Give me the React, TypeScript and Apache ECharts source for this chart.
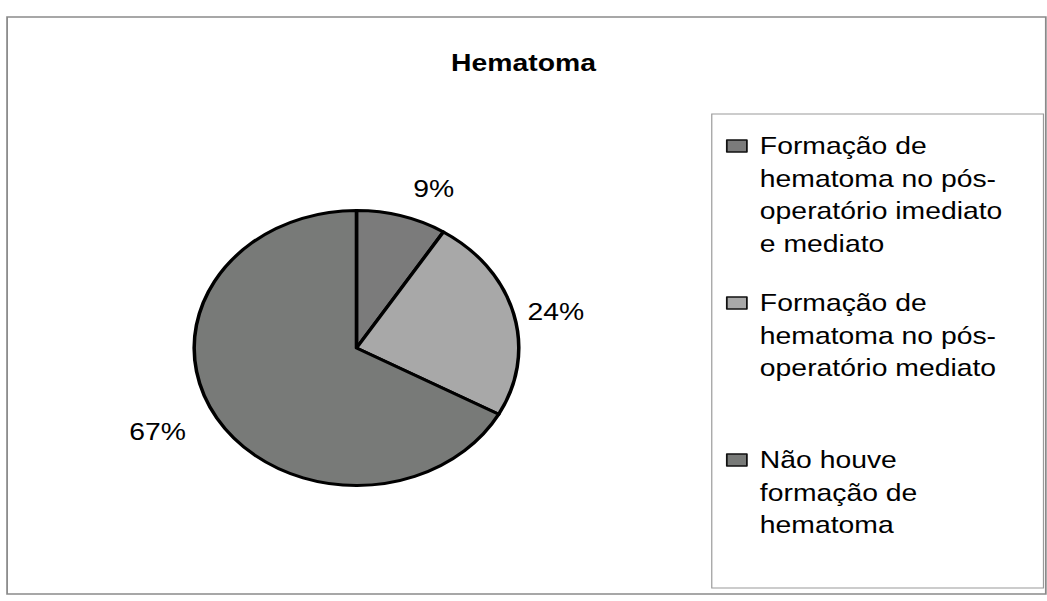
import React, { useEffect, useRef } from "react";
import * as echarts from "echarts";

const categories = [
  "Formação de hematoma no pós-operatório imediato e mediato",
  "Formação de hematoma no pós-operatório mediato",
  "Não houve formação de hematoma",
];
const legendLines = [
  ["Formação de", "hematoma no pós-", "operatório imediato", "e mediato"],
  ["Formação de", "hematoma no pós-", "operatório mediato"],
  ["Não houve", "formação de", "hematoma"],
];
const values = [9, 24, 67];
const colors = ["#7b7b7b", "#a8a8a8", "#787a78"];
const titleText = "Hematoma";

// the scanned reference is stretched horizontally; draw at natural width and stretch
const PAGE_W = 1047;
const PAGE_H = 601;
const STRETCH = 1.18;
const W = Math.round(PAGE_W / STRETCH);

const FONT = "Liberation Sans, Arial, sans-serif";
const LH = 32.5;
const legendFirstLineY = [146, 303, 460];

export default function App() {
  const ref = useRef<HTMLDivElement>(null);
  useEffect(() => {
    if (!ref.current) return;
    const chart = echarts.init(ref.current, null, { renderer: "svg" });
    const legends = categories.map((name, i) => {
      const n = legendLines[i].length;
      return {
        data: [name],
        orient: "vertical",
        left: 615,
        top: legendFirstLineY[i] - ((2 * n - 1) * LH) / 2,
        padding: 0,
        icon: "rect",
        itemWidth: 17,
        itemHeight: 12,
        selectedMode: false,
        itemStyle: { borderColor: "#111", borderWidth: 1.5 },
        // blank lines above keep the symbol level with the first text line
        formatter: (nm: string) => {
          const lines = legendLines[categories.indexOf(nm)];
          return new Array(lines.length - 1).fill(" ").concat(lines).join("\n");
        },
        textStyle: {
          fontFamily: FONT,
          fontSize: 24,
          lineHeight: LH,
          color: "#000",
          padding: [0, 0, 0, 6],
        },
      };
    });
    chart.setOption({
      animation: false,
      backgroundColor: "#fff",
      color: colors,
      title: {
        text: titleText,
        left: "center",
        top: 46,
        textStyle: { fontFamily: FONT, fontSize: 24, fontWeight: "bold", color: "#000" },
      },
      legend: legends,
      graphic: [
        {
          type: "rect",
          shape: { x: 6, y: 17, width: W - 7, height: 577 },
          style: { fill: "none", stroke: "#8a8a8a", lineWidth: 1.5 },
          silent: true,
        },
        {
          type: "rect",
          shape: { x: 603, y: 114, width: 281, height: 474 },
          style: { fill: "none", stroke: "#9a9a9a", lineWidth: 1 },
          silent: true,
        },
      ],
      series: [
        {
          type: "pie",
          center: [302, 348],
          radius: 137.5,
          startAngle: 90,
          clockwise: true,
          avoidLabelOverlap: false,
          silent: true,
          itemStyle: { borderColor: "#000", borderWidth: 3 },
          label: {
            show: true,
            position: "outside",
            formatter: (p: any) => p.value + "%",
            fontFamily: FONT,
            fontSize: 24,
            color: "#000",
            distanceToLabelLine: 2,
          },
          labelLine: { show: false, length: 28, length2: 0 },
          data: categories.map((name, i) => ({
            name,
            value: values[i],
            ...(i === 1 ? { labelLine: { show: false, length: 10, length2: 0 } } : {}),
          })),
        },
      ],
    });
    return () => chart.dispose();
  }, []);
  return (
    <div
      style={{
        position: "fixed",
        left: 0,
        top: 0,
        width: PAGE_W,
        height: PAGE_H,
        overflow: "hidden",
        background: "#fff",
      }}
    >
      <div
        ref={ref}
        style={{
          width: W,
          height: PAGE_H,
          transform: `scaleX(${PAGE_W / W})`,
          transformOrigin: "0 0",
        }}
      />
    </div>
  );
}
